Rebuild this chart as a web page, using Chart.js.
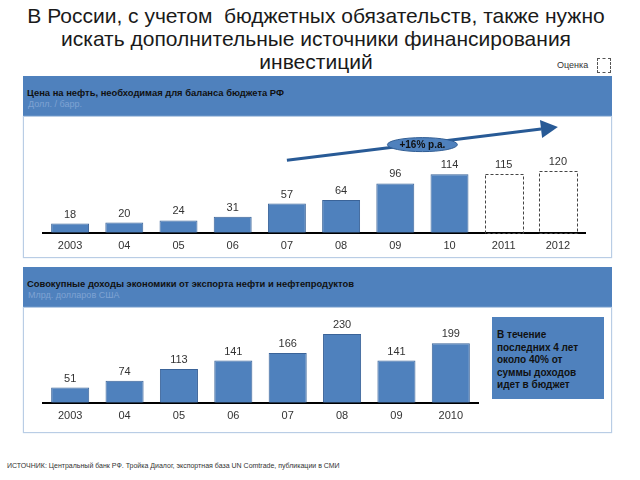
<!DOCTYPE html>
<html>
<head>
<meta charset="utf-8">
<script src="https://cdn.jsdelivr.net/npm/chart.js@4"></script>
<style>
  body { margin: 0; width: 640px; height: 480px; background: #fff; font-family: "Liberation Sans", Arial, sans-serif; position: relative; overflow: hidden; }
  .abs { position: absolute; }
  #title { left: -4px; top: 4px; width: 640px; text-align: center; font-size: 21px; line-height: 23px; color: #1a1a1a; }
  .header { left: 23px; width: 589px; height: 41px; background: #4F81BD; }
  .header .h1 { position: absolute; left: 4px; top: 11px; font-size: 9.4px; font-weight: bold; color: #111; }
  .header .h2 { position: absolute; left: 5px; top: 23px; font-size: 9px; color: #7FA3D3; }
  .panel { left: 23px; width: 587px; background: #fff; border: 1px solid #B9CDE5; box-shadow: 0 0 1px #B9CDE5; }
  #note { left: 492px; top: 317px; width: 112px; height: 82px; background: #4F81BD; box-sizing: border-box; padding: 12px 0 0 5px; font-size: 10px; font-weight: bold; line-height: 12.5px; color: #111; }
  #source { left: 7px; top: 462px; font-size: 7px; color: #333; }
  #est { left: 557px; top: 60px; font-size: 9px; color: #333; }
  #estbox { left: 597px; top: 58px; width: 12px; height: 13px; border: 1px dashed #555; }
</style>
</head>
<body>
<div id="title" class="abs">В России, с учетом&nbsp; бюджетных обязательств, также нужно<br>искать дополнительные источники финансирования<br>инвестиций</div>
<div id="est" class="abs">Оценка</div>
<div id="estbox" class="abs"></div>

<div class="abs header" style="top:76px"><div class="h1">Цена на нефть, необходимая для баланса бюджета РФ</div><div class="h2">Долл. / барр.</div></div>
<div class="abs panel" style="top:116px;height:140px"></div>
<div class="abs" style="left:23px;top:117px;width:589px;height:149px"><canvas id="c1"></canvas></div>

<div class="abs header" style="top:267px"><div class="h1">Совокупные доходы экономики от экспорта нефти и нефтепродуктов</div><div class="h2">Млрд. долларов США</div></div>
<div class="abs panel" style="top:307px;height:124px"></div>
<div class="abs" style="left:23px;top:308px;width:589px;height:133px"><canvas id="c2"></canvas></div>

<div id="note" class="abs">В течение<br>последних 4 лет<br>около 40% от<br>суммы доходов<br>идет в бюджет</div>
<div id="source" class="abs">ИСТОЧНИК: Центральный банк РФ. Тройка Диалог, экспортная база UN Comtrade, публикации в СМИ</div>

<script>
// data
const oilYears = ['2003', '04', '05', '06', '07', '08', '09', '10', '2011', '2012']
const oilPrice = [18, 20, 24, 31, 57, 64, 96, 114, 115, 120]
const oilEstimate = [false, false, false, false, false, false, false, false, true, true]
const exportYears = ['2003', '04', '05', '06', '07', '08', '09', '2010']
const exportIncome = [51, 74, 113, 141, 166, 230, 141, 199]
const trendLabel = '+16% p.a.'

const BLUE = '#4F81BD'
const FONT = '"Liberation Sans", Arial, sans-serif'

// value labels + dashed outline for estimate bars
const barExtras = {
  id: 'barExtras',
  afterDatasetsDraw(chart, args, opts) {
    const ctx = chart.ctx
    const meta = chart.getDatasetMeta(0)
    const est = opts.estimate || []
    ctx.save()
    meta.data.forEach((el, i) => {
      const left = el.x - el.width / 2
      if (est[i]) {
        ctx.setLineDash([3, 2])
        ctx.strokeStyle = '#444'
        ctx.lineWidth = 1
        ctx.strokeRect(Math.round(left) + 0.5, Math.round(el.y) + 0.5, Math.round(el.width), Math.round(el.base - el.y))
        ctx.setLineDash([])
      }
      ctx.fillStyle = '#333'
      ctx.font = '11px ' + FONT
      ctx.textAlign = 'center'
      ctx.textBaseline = 'middle'
      ctx.fillText(chart.data.datasets[0].data[i], el.x, el.y - 9)
    })
    ctx.restore()
  }
}

// trend arrow with growth label
const trendArrow = {
  id: 'trendArrow',
  afterDraw(chart, args, opts) {
    if (!opts.show) return
    const xs = chart.scales.x, ys = chart.scales.y
    const x0 = xs.getPixelForValue(4), y0 = ys.getPixelForValue(141)
    const x1 = xs.getPixelForValue(9), y1 = ys.getPixelForValue(206)
    const ctx = chart.ctx
    const ang = Math.atan2(y1 - y0, x1 - x0)
    const hl = 17, hw = 9
    const bx = x1 - hl * Math.cos(ang), by = y1 - hl * Math.sin(ang)
    ctx.save()
    ctx.strokeStyle = '#285A96'
    ctx.fillStyle = '#285A96'
    ctx.lineWidth = 3
    ctx.beginPath()
    ctx.moveTo(x0, y0)
    ctx.lineTo(bx, by)
    ctx.stroke()
    ctx.beginPath()
    ctx.moveTo(x1, y1)
    ctx.lineTo(bx + hw * Math.sin(ang), by - hw * Math.cos(ang))
    ctx.lineTo(bx - hw * Math.sin(ang), by + hw * Math.cos(ang))
    ctx.closePath()
    ctx.fill()
    // ellipse label on the line
    const t = 0.5
    const cx = x0 + (x1 - x0) * t, cy = y0 + (y1 - y0) * t
    ctx.beginPath()
    ctx.ellipse(cx, cy + 1, 35, 7, 0, 0, Math.PI * 2)
    ctx.fillStyle = BLUE
    ctx.fill()
    ctx.lineWidth = 1
    ctx.strokeStyle = '#2F5C93'
    ctx.stroke()
    ctx.fillStyle = '#111'
    ctx.font = 'bold 10px ' + FONT
    ctx.textAlign = 'center'
    ctx.textBaseline = 'middle'
    ctx.fillText(trendLabel, cx, cy + 1.5)
    ctx.restore()
  }
}

function makeChart(id, labels, values, yMax, padding, estimate, showTrend) {
  return new Chart(document.getElementById(id), {
    type: 'bar',
    data: {
      labels: labels,
      datasets: [{
        data: values,
        backgroundColor: values.map((v, i) => estimate[i] ? 'rgba(0,0,0,0)' : BLUE),
        borderColor: values.map((v, i) => estimate[i] ? 'rgba(0,0,0,0)' : '#3A6398'),
        borderWidth: 1,
        categoryPercentage: 1,
        barPercentage: 0.7
      }]
    },
    options: {
      responsive: true,
      maintainAspectRatio: false,
      animation: false,
      layout: { padding: padding },
      plugins: {
        legend: { display: false },
        tooltip: { enabled: false },
        barExtras: { estimate: estimate },
        trendArrow: { show: showTrend }
      },
      scales: {
        x: {
          grid: { display: false, drawTicks: false },
          border: { display: true, color: '#000', width: 2 },
          ticks: { color: '#333', font: { size: 11, family: FONT }, padding: 7 }
        },
        y: { display: false, min: 0, max: yMax }
      }
    },
    plugins: [barExtras, trendArrow]
  })
}

makeChart('c1', oilYears, oilPrice, 200, { left: 20, right: 27, top: 13, bottom: 6 }, oilEstimate, true)
makeChart('c2', exportYears, exportIncome, 280, { left: 20, right: 134, top: 11, bottom: 11 }, exportIncome.map(() => false), false)
</script>
</body>
</html>
